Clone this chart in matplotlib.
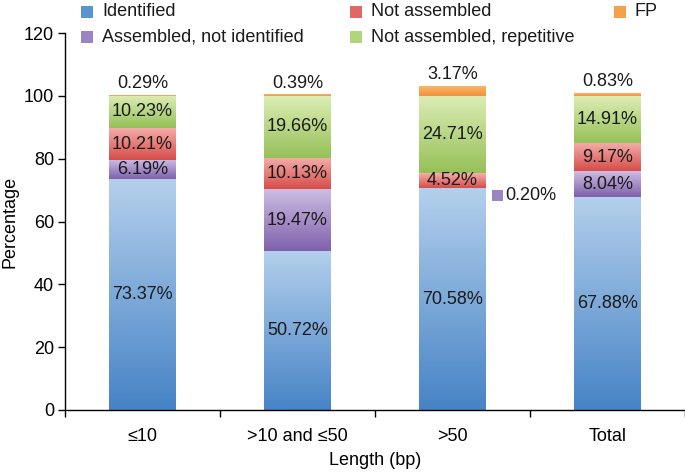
import matplotlib
matplotlib.use("Agg")
import matplotlib.pyplot as plt
import numpy as np
from matplotlib.colors import to_rgb, LinearSegmentedColormap
from matplotlib.patches import Rectangle

plt.rcParams['font.family'] = ['Liberation Sans', 'DejaVu Sans']

categories = ["\u226410", ">10 and \u226450", ">50", "Total"]
series_names = ["Identified", "Assembled, not identified", "Not assembled",
                "Not assembled, repetitive", "FP"]
identified = [73.37, 50.72, 70.58, 67.88]
assembled_not_identified = [6.19, 19.47, 0.20, 8.04]
not_assembled = [10.21, 10.13, 4.52, 9.17]
not_assembled_repetitive = [10.23, 19.66, 24.71, 14.91]
fp = [0.29, 0.39, 3.17, 0.83]
series = [identified, assembled_not_identified, not_assembled,
          not_assembled_repetitive, fp]

# (top light, bottom dark, legend colour)
grads = [("#b3cfec", "#4784c6", "#5b93d0"),
         ("#cdbde3", "#7f61ac", "#9a84c4"),
         ("#f4aeab", "#d64e4a", "#e06764"),
         ("#dcedb4", "#96c058", "#b0d57a"),
         ("#fbb46a", "#f3923a", "#f7a04c")]

fig = plt.figure(figsize=(6.85, 4.72), dpi=100)
ax = fig.add_axes([65/685, 62/472, 620/685, 377/472])

x = np.arange(len(categories))
width = 0.43
bottom = np.zeros(len(categories))
bar_containers = []
for vals, (ct, cb, _) in zip(series, grads):
    bc = ax.bar(x, vals, width, bottom=bottom, color="none", edgecolor="none")
    cmap = LinearSegmentedColormap.from_list("g", [cb, ct])
    grad = np.linspace(0, 1, 64).reshape(-1, 1)
    for p in bc.patches:
        bb = p.get_bbox()
        ax.imshow(grad, cmap=cmap, origin="lower", aspect="auto",
                  extent=(bb.x0, bb.x1, bb.y0, bb.y1), zorder=1,
                  interpolation="bilinear")
    bar_containers.append((bc, bottom.copy(), vals))
    bottom = bottom + np.array(vals)

ax.set_xlim(-0.5, len(categories) - 0.5)
ax.set_ylim(0, 120)
ax.set_yticks(range(0, 121, 20))
ax.set_xticks(np.arange(len(categories) + 1) - 0.5, minor=False)
ax.set_xticklabels([])
ax.set_xticks(x, minor=True)
ax.set_xticklabels(categories, minor=True)
ax.tick_params(axis="x", which="minor", length=0, pad=13, labelsize=13)
ax.tick_params(axis="x", which="major", length=5, width=1, direction="out")
ax.tick_params(axis="y", length=5, width=1, direction="out", labelsize=13, pad=3)
for s in ["top", "right"]:
    ax.spines[s].set_visible(False)
ax.spines["left"].set_linewidth(1)
ax.spines["bottom"].set_linewidth(1)
ax.set_ylabel("Percentage", fontsize=13, labelpad=4)
ax.set_xlabel("Length (bp)", fontsize=13, labelpad=5)

# labels
for si, (bc, bot, vals) in enumerate(bar_containers):
    for i, v in enumerate(vals):
        lab = f"{v:.2f}%"
        if si == 4:
            ax.text(x[i], bot[i] + v + 1.0, lab, ha="center", va="bottom", fontsize=13, color="#1a1a1a")
        elif si == 1 and i == 2:
            xr = x[i] + width / 2 + 0.04
            ax.add_patch(Rectangle((xr, bot[i] + v / 2 - 4.3), 0.07, 3.6,
                                   facecolor=grads[1][2], edgecolor="none", clip_on=False))
            ax.text(xr + 0.085, bot[i] + v / 2 - 2.4, lab, ha="left", va="center", fontsize=13, color="#1a1a1a")
        else:
            ax.text(x[i], bot[i] + v / 2, lab, ha="center", va="center", fontsize=13, color="#1a1a1a")

# legend
leg = [(0, 0, 81, 12), (1, 1, 81, 37), (2, 0, 350, 12), (3, 1, 350, 37), (4, 0, 614, 12)]
for si, _, px, py in leg:
    fig.patches.append(Rectangle((px / 685, 1 - (py + 6) / 472), 12 / 685, 12 / 472,
                                 transform=fig.transFigure, facecolor=grads[si][2],
                                 edgecolor="none"))
    fig.text((px + 21) / 685, 1 - py / 472, series_names[si], ha="left", va="center",
             fontsize=13, color="#1a1a1a")

fig.savefig("out.png", dpi=100)
